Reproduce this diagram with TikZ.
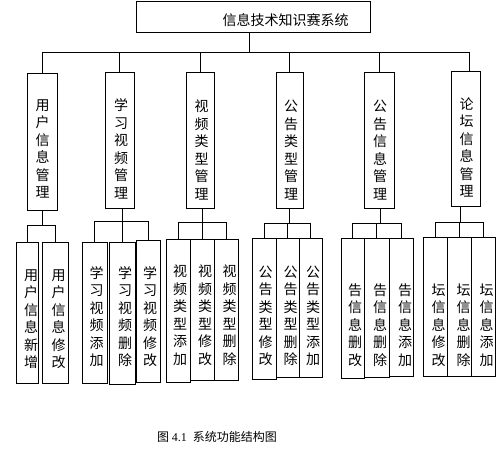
\documentclass[tikz,border=0pt]{standalone}
\usepackage{fontspec}
\newfontfamily\cjk{Noto Sans CJK SC}
\newfontfamily\capnum{Liberation Serif}
\usetikzlibrary{fit}
\begin{document}
\begin{tikzpicture}[x=1pt,y=1pt,line width=0.9pt,
  bx/.style={draw,inner sep=0pt},
  vt/.style={font=\cjk\fontsize{14}{17.5}\selectfont,align=center,inner sep=0pt},
  conn/.style={draw}]
\useasboundingbox (0,0) rectangle (498,-450);
% top
\node[bx,fit={(136,-1) (370,-32)}] (top) {};
\node[vt] (topt) at (285.5,-20) {信息技术知识赛系统};
% level 2
\node[bx,fit={(27,-73) (57,-210)}] (L1) {};
\node[bx,fit={(105,-72) (134,-208)}] (L2) {};
\node[bx,fit={(186,-72) (214,-208)}] (L3) {};
\node[bx,fit={(276,-72) (303,-208)}] (L4) {};
\node[bx,fit={(364,-72) (394,-208)}] (L5) {};
\node[bx,fit={(451,-71) (480,-206)}] (L6) {};
\node[vt] (L1t) at (42.5,-149) {用\\户\\信\\息\\管\\理};
\node[vt] (L2t) at (121,-149) {学\\习\\视\\频\\管\\理};
\node[vt] (L3t) at (201.5,-150) {视\\频\\类\\型\\管\\理};
\node[vt] (L4t) at (291,-150) {公\\告\\类\\型\\管\\理};
\node[vt] (L5t) at (380,-150) {公\\告\\信\\息\\管\\理};
\node[vt] (L6t) at (466.5,-147.5) {论\\坛\\信\\息\\管\\理};
% level 3
\node[bx,fit={(16,-242) (38,-383)}] (A1) {};
\node[bx,fit={(42,-242) (68,-383)}] (A2) {};
\node[vt] (A1t) at (31,-319) {用\\户\\信\\息\\新\\增};
\node[vt] (A2t) at (58.5,-319) {用\\户\\信\\息\\修\\改};
\node[bx,fit={(82,-242) (107,-383)}] (B1) {};
\node[bx,fit={(109,-242) (135,-384)}] (B2) {};
\node[bx,fit={(136,-240) (160,-382)}] (B3) {};
\node[vt] (B1t) at (96.5,-316.5) {学\\习\\视\\频\\添\\加};
\node[vt] (B2t) at (125,-316.5) {学\\习\\视\\频\\删\\除};
\node[vt] (B3t) at (150,-316.5) {学\\习\\视\\频\\修\\改};
\node[bx,fit={(166,-239) (190,-382)}] (C1) {};
\node[bx,fit={(190,-239) (214,-380)}] (C2) {};
\node[bx,fit={(214,-239) (238,-380)}] (C3) {};
\node[vt] (C1t) at (180,-315) {视\\频\\类\\型\\添\\加};
\node[vt] (C2t) at (205,-315) {视\\频\\类\\型\\修\\改};
\node[vt] (C3t) at (229.5,-315) {视\\频\\类\\型\\删\\除};
\node[bx,fit={(252,-238) (276,-379)}] (D1) {};
\node[bx,fit={(276,-238) (299,-377)}] (D2) {};
\node[bx,fit={(299,-238) (322,-377)}] (D3) {};
\node[vt] (D1t) at (265.5,-316) {公\\告\\类\\型\\修\\改};
\node[vt] (D2t) at (290.5,-316) {公\\告\\类\\型\\删\\除};
\node[vt] (D3t) at (313,-316) {公\\告\\类\\型\\添\\加};
\node[bx,fit={(341,-238) (364,-378)}] (E1) {};
\node[bx,fit={(364,-238) (389,-377)}] (E2) {};
\node[bx,fit={(389,-238) (413,-376)}] (E3) {};
\node[vt] (E1t) at (355,-325) {告\\信\\息\\删\\改};
\node[vt] (E2t) at (380,-325) {告\\信\\息\\删\\除};
\node[vt] (E3t) at (405,-325) {告\\信\\息\\添\\加};
\node[bx,fit={(423,-237) (447,-376)}] (F1) {};
\node[bx,fit={(447,-237) (471,-376)}] (F2) {};
\node[bx,fit={(471,-237) (495,-376)}] (F3) {};
\node[vt] (F1t) at (438.5,-325) {坛\\信\\息\\修\\改};
\node[vt] (F2t) at (463.5,-325) {坛\\信\\息\\删\\除};
\node[vt] (F3t) at (486.5,-325) {坛\\信\\息\\添\\加};
% connectors level 1-2
\coordinate (bus) at (249,-52);
\draw (top.south -| bus) -- (bus);
\foreach \n in {L1,L2,L3,L4,L5} \draw (\n.north) |- (bus);
\draw ([xshift=3.5pt]L6.north) |- (bus);
% groups
\coordinate (b1) at (42,-225);
\coordinate (b2) at (122,-221);
\coordinate (b3) at (202,-222);
\coordinate (b4) at (289,-223);
\coordinate (b5) at (380,-223);
\coordinate (b6) at (460,-222);
\draw (L1.south -| b1) -- (b1);
\draw (L2.south -| b2) -- (b2);
\draw (L3.south -| b3) -- (b3);
\draw (L4.south -| b4) -- (b4);
\draw (L5.south -| b5) -- (b5);
\draw (L6.south -| b6) -- (b6);
\foreach \n in {A1,A2} \draw (\n.north) |- (b1);
\foreach \n in {B1,B2,B3} \draw (\n.north) |- (b2);
\foreach \n in {C1,C2,C3} \draw (\n.north) |- (b3);
\foreach \n in {D1,D2,D3} \draw (\n.north) |- (b4);
\foreach \n in {E1,E2,E3} \draw (\n.north) |- (b5);
\foreach \n in {F1,F2,F3} \draw (\n.north) |- (b6);
% caption
\node[inner sep=0pt,font=\fontsize{12}{14}\selectfont] (cap) at (217,-437) {\cjk 图 {\capnum 4.1}\hspace{6pt}系统功能结构图};
\end{tikzpicture}
\end{document}
